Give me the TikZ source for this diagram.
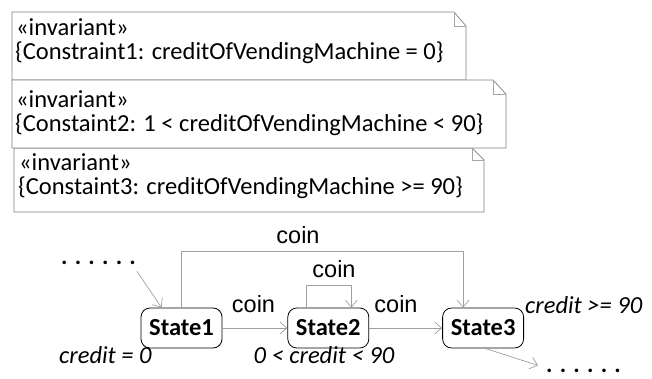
\documentclass[tikz,border=0pt]{standalone}
\usepackage{fontspec}
\setmainfont{Carlito}
\newfontfamily\coinfont{Liberation Sans}
\usetikzlibrary{arrows.meta,positioning}

\tikzset{
	note/.style={draw=gray, fill=white, line width=0.7pt},
	fold/.style={draw=gray!70, line width=0.5pt},
	notetext/.style={anchor=base west, inner sep=0pt, font=\fontsize{24.5}{28}\selectfont},
	statebox/.style={draw, rounded corners=9pt, minimum width=81pt, minimum height=40pt, inner sep=0pt, line width=0.8pt, font=\fontsize{24.5}{28}\selectfont\bfseries},
	trans/.style={draw=gray!75, line width=0.7pt, -{Straight Barb[length=7pt,width=12pt]}},
	guard/.style={inner sep=0pt, font=\fontsize{24.5}{28}\selectfont\itshape},
	evt/.style={anchor=base, inner sep=0pt, font=\fontsize{23.5}{28}\selectfont\coinfont},
	dots/.style={anchor=base west, inner sep=0pt, font=\fontsize{24}{28}\selectfont\bfseries}
}

\begin{document}
\begin{tikzpicture}[x=1pt, y=-1pt]
	\useasboundingbox (0,0) rectangle (652,379);
	% invariant notes, the middle one lies on top
	\path[note] (12,12) -- (454,12) -- (466,26) -- (466,80) -- (12,80) -- cycle;
	\draw[fold] (454,12) |- (466,26);
	\node[notetext] (inv1a) at (16,36) {«invariant»};
	\node[notetext] (inv1b) at (15,60) {\{Constraint1: creditOfVendingMachine = 0\}};
	\path[note] (14,148) -- (472,148) -- (484,160) -- (484,212) -- (14,212) -- cycle;
	\draw[fold] (472,148) |- (484,160);
	\node[notetext] (inv3a) at (19,171) {«invariant»};
	\node[notetext] (inv3b) at (18,195) {\{Constaint3: creditOfVendingMachine >= 90\}};
	\path[note] (12,80) -- (493,80) -- (506,94) -- (506,148) -- (12,148) -- cycle;
	\draw[fold] (493,80) |- (506,94);
	\node[notetext] (inv2a) at (16,108) {«invariant»};
	\node[notetext] (inv2b) at (15,132) {\{Constaint2: 1 < creditOfVendingMachine < 90\}};

	% state machine
	\node[statebox] (s1) at (181.5,328) {State1};
	\node[statebox, right=65pt of s1] (s2) {State2};
	\node[statebox, right=73pt of s2] (s3) {State3};
	\node[dots] (din) at (61,264) {. . . . . .};
	\node[dots] (dout) at (546,372) {. . . . . .};

	\node[guard, anchor=base west] (g1) at (59,363) {credit = 0};
	\node[guard, anchor=base] (g2) at (324,363) {0 < credit < 90};
	\node[guard, anchor=base west] (g3) at (525,313) {credit >= 90};

	\draw[trans] ([shift={(1,7)}]din.south east) -- ([xshift=-20pt]s1.north);
	\draw[trans] (s1.north) -- ++(0,-56) -| ([xshift=-20pt]s3.north);
	\draw[trans] ([xshift=-22pt]s2.north) -- ++(0,-22) -| ([xshift=23pt]s2.north);
	\draw[trans] (s1) -- (s2);
	\draw[trans] (s2) -- (s3);
	\draw[trans] ([xshift=2pt]s3.south) -- ([shift={(-8,-3)}]dout.north west);

	\node[evt] (e13) at (298,243) {coin};
	\node[evt] (e22) at (334,277) {coin};
	\node[evt] (e12) at (253.5,312) {coin};
	\node[evt] (e23) at (396,312) {coin};
\end{tikzpicture}
\end{document}
